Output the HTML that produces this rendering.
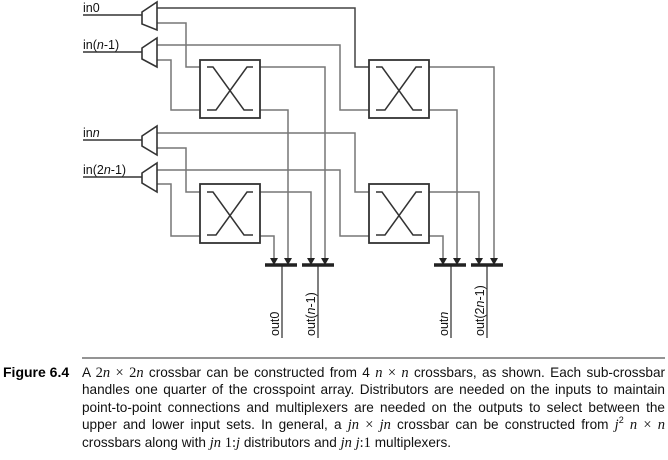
<!DOCTYPE html>
<html><head><meta charset="utf-8"><style>
body{margin:0;width:668px;height:460px;background:#fff;overflow:hidden;position:relative;font-family:"Liberation Sans",sans-serif}
.cap{position:absolute;left:82px;top:364px;width:583px;font-size:13.6px;line-height:17.4px;color:#111}
.cap div{text-align:justify;text-align-last:justify;white-space:nowrap;height:17.4px}
.cap div.l{text-align-last:left}
.fig{position:absolute;left:3px;top:364px;font-size:14px;font-weight:bold;line-height:17.4px}
.m{font-family:"Liberation Serif",serif;font-style:italic;font-size:14.5px}
.r{font-family:"Liberation Serif",serif;font-size:14.5px}
.sup{font-size:9px;position:relative;top:-6px;line-height:0}
</style></head><body>
<svg width="668" height="460" style="position:absolute;left:0;top:0" font-family="Liberation Sans, sans-serif" font-size="12.5">
<g fill="none" stroke="#777" stroke-width="1.5">
<path d="M83 15H142M83 52H142M83 140H142M83 177H142" stroke="#333"/>
<path d="M157 8H355V67H369" stroke="#444"/>
<path d="M157 23H186V67H200"/>
<path d="M157 45H340V110H369"/>
<path d="M157 60H171V110H200"/>
<path d="M157 133H355V192H369"/>
<path d="M157 148H186V192H200"/>
<path d="M157 170H340V236H369"/>
<path d="M157 184H171V236H200"/>
<path d="M260 67H325V258"/>
<path d="M260 110H288V258"/>
<path d="M429 67H494V258"/>
<path d="M429 110H457V258"/>
<path d="M260 192H311V258"/>
<path d="M260 236H274V258"/>
<path d="M429 192H479V258"/>
<path d="M429 236H443V258"/>
<path d="M282 265V338M318 265V338M451 265V338M487 265V338" stroke="#555"/>
</g>
<g fill="#222">
<path d="M270 258h8l-4 7z M284 258h8l-4 7z M307 258h8l-4 7z M321 258h8l-4 7z M439 258h8l-4 7z M453 258h8l-4 7z M475 258h8l-4 7z M490 258h8l-4 7z"/>
</g>
<g stroke="#222" stroke-width="3.5">
<path d="M265 265H297M302 265H334M434 265H466M471 265H503"/>
</g>
<g fill="#fff" stroke="#333" stroke-width="1.6">
<path d="M142 12L157 2V30L142 24Z"/>
<path d="M142 48L157 38V67L142 59Z"/>
<path d="M142 136L157 126V155L142 146Z"/>
<path d="M142 173L157 163V192L142 183Z"/>
</g>
<g fill="#fff" stroke="#333" stroke-width="1.8">
<rect x="200" y="60" width="60" height="58"/>
<rect x="369" y="60" width="60" height="58"/>
<rect x="200" y="184" width="60" height="59"/>
<rect x="369" y="184" width="60" height="59"/>
</g>
<g fill="none" stroke="#333" stroke-width="1.5">
<path id="x" d="M207 67H213L244 110H253M253 67H247L216 110H207"/>
<use href="#x" transform="translate(169,0)"/>
<use href="#x" transform="translate(0,125)"/>
<use href="#x" transform="translate(169,125)"/>
</g>
<g fill="#111">
<text x="83" y="12">in0</text>
<text x="83" y="49">in(<tspan font-style="italic">n</tspan>-1)</text>
<text x="83" y="137">in<tspan font-style="italic">n</tspan></text>
<text x="83" y="174">in(2<tspan font-style="italic">n</tspan>-1)</text>
<text transform="translate(279,336) rotate(-90)">out0</text>
<text transform="translate(315,336) rotate(-90)">out(<tspan font-style="italic">n</tspan>-1)</text>
<text transform="translate(448,336) rotate(-90)">out<tspan font-style="italic">n</tspan></text>
<text transform="translate(484,336) rotate(-90)">out(2<tspan font-style="italic">n</tspan>-1)</text>
</g>
<line x1="82" y1="358" x2="665" y2="358" stroke="#555" stroke-width="1.3"/>
</svg>
<div class="fig">Figure 6.4</div>
<div class="cap">
<div>A <span class="r">2</span><span class="m">n</span> <span class="r">×</span> <span class="r">2</span><span class="m">n</span> crossbar can be constructed from 4 <span class="m">n</span> <span class="r">×</span> <span class="m">n</span> crossbars, as shown. Each sub-crossbar</div>
<div>handles one quarter of the crosspoint array. Distributors are needed on the inputs to maintain</div>
<div>point-to-point connections and multiplexers are needed on the outputs to select between the</div>
<div>upper and lower input sets. In general, a <span class="m">jn</span> <span class="r">×</span> <span class="m">jn</span> crossbar can be constructed from <span class="m">j</span><span class="sup">2</span> <span class="m">n</span> <span class="r">×</span> <span class="m">n</span></div>
<div class="l">crossbars along with <span class="m">jn</span> <span class="r">1:</span><span class="m">j</span> distributors and <span class="m">jn</span> <span class="m">j</span><span class="r">:1</span> multiplexers.</div>
</div>
</body></html>
